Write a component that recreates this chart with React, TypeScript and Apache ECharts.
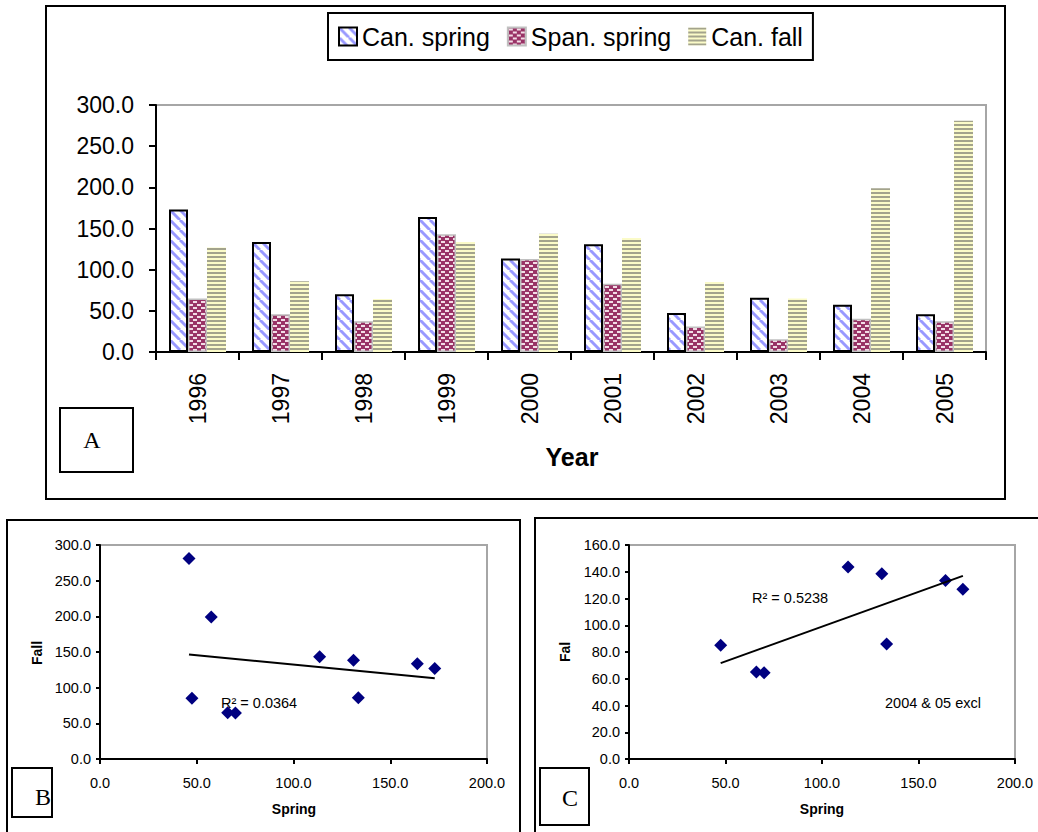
import React, { useEffect, useRef } from "react";
import * as echarts from "echarts";

// ---- Data ----
const years = ["1996", "1997", "1998", "1999", "2000", "2001", "2002", "2003", "2004", "2005"];
const canSpring = [173, 133.5, 70, 164, 113.5, 131, 47.5, 66, 57.5, 46];
const spanSpring = [65, 46, 37.5, 143, 113, 83, 31, 15.5, 40.5, 37.5];
const canFall = [127, 86, 64.5, 133.5, 143.5, 138.5, 85, 65, 199, 281];
const excludedYears = ["2004", "2005"];

const barTicksA = { min: 0, max: 300, interval: 50 };
const ticksB = { xmin: 0, xmax: 200, xint: 50, ymin: 0, ymax: 300, yint: 50 };
const ticksC = { xmin: 0, xmax: 200, xint: 50, ymin: 0, ymax: 160, yint: 20 };

const r2B = "R² = 0.0364";
const r2C = "R² = 0.5238";
const noteC = "2004 & 05 excl";

const SANS = "'Liberation Sans', Arial, sans-serif";
const SERIF = "'Liberation Serif', 'Times New Roman', serif";

function linReg(xs: number[], ys: number[]) {
  const n = xs.length;
  const mx = xs.reduce((a, b) => a + b, 0) / n;
  const my = ys.reduce((a, b) => a + b, 0) / n;
  let sxy = 0, sxx = 0;
  for (let i = 0; i < n; i++) {
    sxy += (xs[i] - mx) * (ys[i] - my);
    sxx += (xs[i] - mx) * (xs[i] - mx);
  }
  const b = sxy / sxx;
  const a = my - b * mx;
  const x0 = Math.min(...xs);
  const x1 = Math.max(...xs);
  return [[x0, a + b * x0], [x1, a + b * x1]];
}

function makePattern(w: number, h: number, draw: (ctx: CanvasRenderingContext2D) => void) {
  const c = document.createElement("canvas");
  c.width = w;
  c.height = h;
  const ctx = c.getContext("2d") as CanvasRenderingContext2D;
  draw(ctx);
  return { image: c, repeat: "repeat" } as any;
}

export default function App() {
  const ref = useRef<HTMLDivElement>(null);

  useEffect(() => {
    document.body.style.margin = "0";
    if (!ref.current) return;
    const chart = echarts.init(ref.current, undefined, { renderer: "svg" });

    const diag = makePattern(10, 10, (ctx) => {
      ctx.fillStyle = "#ffffff";
      ctx.fillRect(0, 0, 10, 10);
      ctx.strokeStyle = "#9999ff";
      ctx.lineWidth = 3;
      for (const k of [-10, 0, 10]) {
        ctx.beginPath();
        ctx.moveTo(k, 0);
        ctx.lineTo(k + 10, 10);
        ctx.stroke();
      }
    });
    const dots = makePattern(8, 6, (ctx) => {
      ctx.fillStyle = "#993366";
      ctx.fillRect(0, 0, 8, 6);
      ctx.fillStyle = "#f2dce6";
      ctx.fillRect(1, 1, 4, 2);
      ctx.fillRect(5, 4, 4, 2);
      ctx.fillRect(-3, 4, 4, 2);
    });
    const hstripe = makePattern(6, 4, (ctx) => {
      ctx.fillStyle = "#fbfbc8";
      ctx.fillRect(0, 0, 6, 4);
      ctx.fillStyle = "#a3a38c";
      ctx.fillRect(0, 0, 6, 2);
    });

    const ptsAll = years.map((y, i) => [canSpring[i], canFall[i]]);
    const keepIdx = years.map((y, i) => i).filter((i) => !excludedYears.includes(years[i]));
    const ptsC = keepIdx.map((i) => [canSpring[i], canFall[i]]);
    const trendB = linReg(canSpring, canFall);
    const trendC = linReg(keepIdx.map((i) => canSpring[i]), keepIdx.map((i) => canFall[i]));

    const axisLine = { show: true, lineStyle: { color: "#000", width: 2 } };
    const gridStyle = { show: true, borderColor: "#a6a6a6", borderWidth: 2, backgroundColor: "transparent" };

    const txt = (x: number, y: number, text: string, font: string, align = "center", rotation = 0) => ({
      type: "text",
      x,
      y,
      rotation,
      style: {
        text,
        font,
        fill: "#000",
        align,
        verticalAlign: "middle",
        textAlign: align,
        textVerticalAlign: "middle",
      },
    });
    const box = (x: number, y: number, w: number, h: number) => ({
      type: "rect",
      shape: { x, y, width: w, height: h },
      style: { fill: "none", stroke: "#000", lineWidth: 2 },
    });

    const valLabel = (size: number, margin: number) => ({
      fontSize: size,
      fontFamily: SANS,
      color: "#000",
      margin,
      formatter: (v: number) => v.toFixed(1),
    });

    chart.setOption({
      animation: false,
      backgroundColor: "#ffffff",
      legend: {
        data: ["Can. spring", "Span. spring", "Can. fall"],
        left: 328,
        top: 13,
        orient: "horizontal",
        padding: [11, 10, 11, 10],
        itemGap: 17,
        itemWidth: 18,
        itemHeight: 18,
        icon: "rect",
        borderColor: "#000",
        borderWidth: 2,
        textStyle: { fontSize: 25, fontFamily: SANS, color: "#000" },
      },
      grid: [
        { left: 156, top: 105, width: 830, height: 247, ...gridStyle },
        { left: 100, top: 545, width: 387, height: 214, ...gridStyle },
        { left: 629, top: 545, width: 386, height: 214, ...gridStyle },
      ],
      xAxis: [
        {
          gridIndex: 0,
          type: "category",
          data: years,
          axisLine,
          axisTick: { show: true, length: 8, lineStyle: { color: "#000", width: 2 } },
          axisLabel: { rotate: 90, fontSize: 23, fontFamily: SANS, color: "#000", margin: 21, interval: 0 },
          splitLine: { show: false },
        },
        {
          gridIndex: 1,
          type: "value",
          min: ticksB.xmin,
          max: ticksB.xmax,
          interval: ticksB.xint,
          axisLine,
          axisTick: { show: true, length: 5, lineStyle: { color: "#000", width: 2 } },
          axisLabel: valLabel(14.5, 16),
          splitLine: { show: false },
        },
        {
          gridIndex: 2,
          type: "value",
          min: ticksC.xmin,
          max: ticksC.xmax,
          interval: ticksC.xint,
          axisLine,
          axisTick: { show: true, length: 5, lineStyle: { color: "#000", width: 2 } },
          axisLabel: valLabel(14.5, 16),
          splitLine: { show: false },
        },
      ],
      yAxis: [
        {
          gridIndex: 0,
          type: "value",
          min: barTicksA.min,
          max: barTicksA.max,
          interval: barTicksA.interval,
          axisLine,
          axisTick: { show: true, length: 7, lineStyle: { color: "#000", width: 2 } },
          axisLabel: valLabel(23, 22),
          splitLine: { show: false },
        },
        {
          gridIndex: 1,
          type: "value",
          min: ticksB.ymin,
          max: ticksB.ymax,
          interval: ticksB.yint,
          axisLine,
          axisTick: { show: true, length: 4, lineStyle: { color: "#000", width: 2 } },
          axisLabel: valLabel(14.5, 9),
          splitLine: { show: false },
        },
        {
          gridIndex: 2,
          type: "value",
          min: ticksC.ymin,
          max: ticksC.ymax,
          interval: ticksC.yint,
          axisLine,
          axisTick: { show: true, length: 4, lineStyle: { color: "#000", width: 2 } },
          axisLabel: valLabel(14.5, 9),
          splitLine: { show: false },
        },
      ],
      series: [
        {
          name: "Can. spring",
          type: "bar",
          xAxisIndex: 0,
          yAxisIndex: 0,
          data: canSpring,
          barWidth: 19,
          barGap: "0%",
          itemStyle: { color: diag, borderColor: "#000", borderWidth: 2 },
        },
        {
          name: "Span. spring",
          type: "bar",
          xAxisIndex: 0,
          yAxisIndex: 0,
          data: spanSpring,
          barWidth: 19,
          barGap: "0%",
          itemStyle: { color: dots, borderColor: "#c0c0c0", borderWidth: 1.5 },
        },
        {
          name: "Can. fall",
          type: "bar",
          xAxisIndex: 0,
          yAxisIndex: 0,
          data: canFall,
          barWidth: 19,
          barGap: "0%",
          itemStyle: { color: hstripe, borderWidth: 0 },
        },
        {
          name: "B points",
          type: "scatter",
          xAxisIndex: 1,
          yAxisIndex: 1,
          data: ptsAll,
          symbol: "diamond",
          symbolSize: [13, 13],
          itemStyle: { color: "#000080", opacity: 1 },
        },
        {
          name: "B trend",
          type: "line",
          xAxisIndex: 1,
          yAxisIndex: 1,
          data: trendB,
          symbol: "none",
          lineStyle: { color: "#000", width: 2 },
        },
        {
          name: "C points",
          type: "scatter",
          xAxisIndex: 2,
          yAxisIndex: 2,
          data: ptsC,
          symbol: "diamond",
          symbolSize: [13, 13],
          itemStyle: { color: "#000080", opacity: 1 },
        },
        {
          name: "C trend",
          type: "line",
          xAxisIndex: 2,
          yAxisIndex: 2,
          data: trendC,
          symbol: "none",
          lineStyle: { color: "#000", width: 2 },
        },
      ],
      graphic: [
        box(46, 6, 959, 493),
        box(60, 408, 73, 64),
        txt(92, 440, "A", `24px ${SERIF}`),
        txt(572, 457, "Year", `bold 25px ${SANS}`),
        box(7, 520, 513, 340),
        box(12, 768, 40, 49),
        txt(43, 797, "B", `24px ${SERIF}`),
        txt(37, 653, "Fall", `bold 14px ${SANS}`, "center", Math.PI / 2),
        txt(294, 809, "Spring", `bold 14px ${SANS}`),
        txt(221, 703, r2B, `14.5px ${SANS}`, "left"),
        box(535, 518, 540, 340),
        box(540, 768, 49, 57),
        txt(570, 798, "C", `24px ${SERIF}`),
        txt(565, 652, "Fal", `bold 14px ${SANS}`, "center", Math.PI / 2),
        txt(822, 809, "Spring", `bold 14px ${SANS}`),
        txt(752, 598, r2C, `14.5px ${SANS}`, "left"),
        txt(885, 703, noteC, `14.5px ${SANS}`, "left"),
      ],
    });

    return () => {
      chart.dispose();
    };
  }, []);

  return <div ref={ref} style={{ width: 1038, height: 832 }} />;
}
